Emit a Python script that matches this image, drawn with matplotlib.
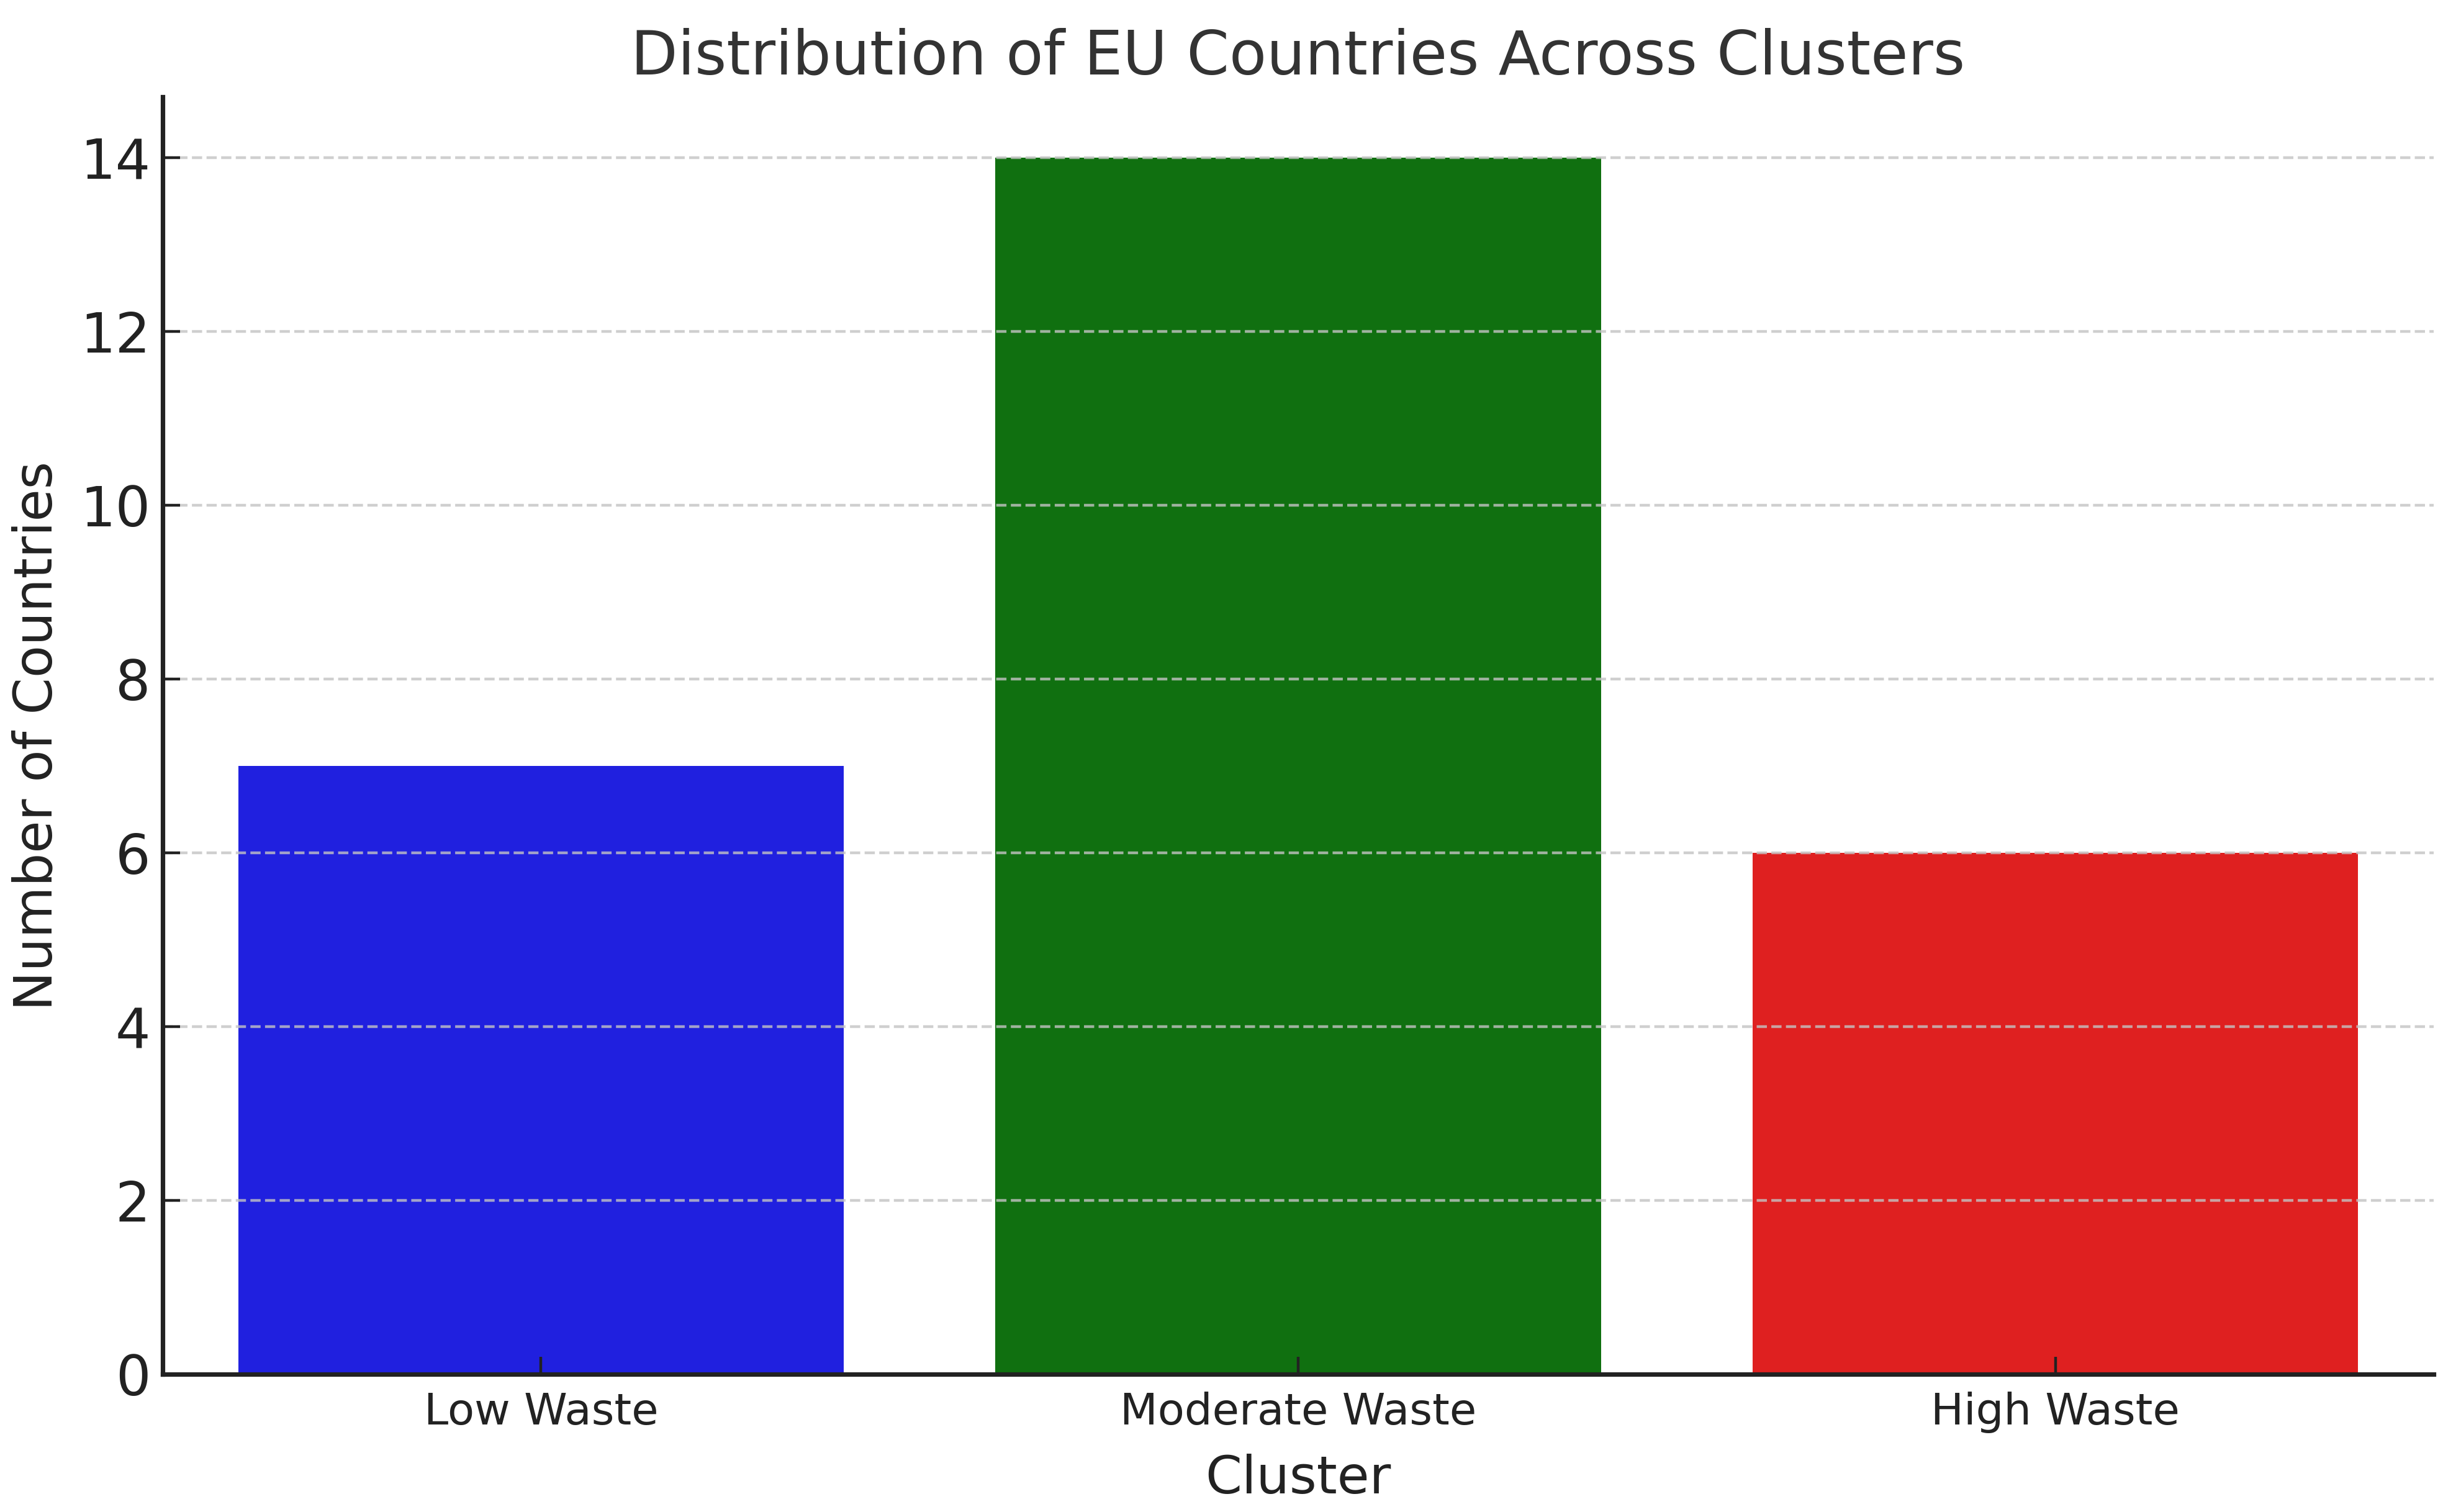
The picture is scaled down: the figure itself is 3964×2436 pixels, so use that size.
import matplotlib
matplotlib.use("Agg")
import matplotlib.pyplot as plt
import seaborn as sns

# dados
clusters = ['Low Waste', 'Moderate Waste', 'High Waste']
contagens = [7, 14, 6]
cores = ['blue', 'green', 'red']

fig, ax = plt.subplots(figsize=(9.91, 6.09), dpi=400)
sns.barplot(x=clusters, y=contagens, hue=clusters, palette=cores, legend=False, ax=ax)

ax.set_title('Distribution of EU Countries Across Clusters', fontsize=17.7, color='#333333', pad=6.5)
ax.set_xlabel('Cluster', fontsize=15.2, color='#222222', labelpad=6)
ax.set_ylabel('Number of Countries', fontsize=15.3, color='#222222', labelpad=5)
ax.tick_params(axis='x', labelsize=12.7, direction='in', length=5, colors='#222222', pad=5)
ax.tick_params(axis='y', labelsize=16, direction='in', length=5, colors='#222222')
ax.grid(axis='y', linestyle='--', alpha=0.8, color='#c4c4c4')
ax.set_axisbelow(False)
ax.spines['top'].set_visible(False)
ax.spines['right'].set_visible(False)
for s in ['left', 'bottom']:
    ax.spines[s].set_linewidth(1.3)
    ax.spines[s].set_color('#222222')
    ax.spines[s].set_zorder(5)

plt.subplots_adjust(left=0.066, right=0.989, top=0.936, bottom=0.091)
plt.savefig('out.png', dpi=400)
